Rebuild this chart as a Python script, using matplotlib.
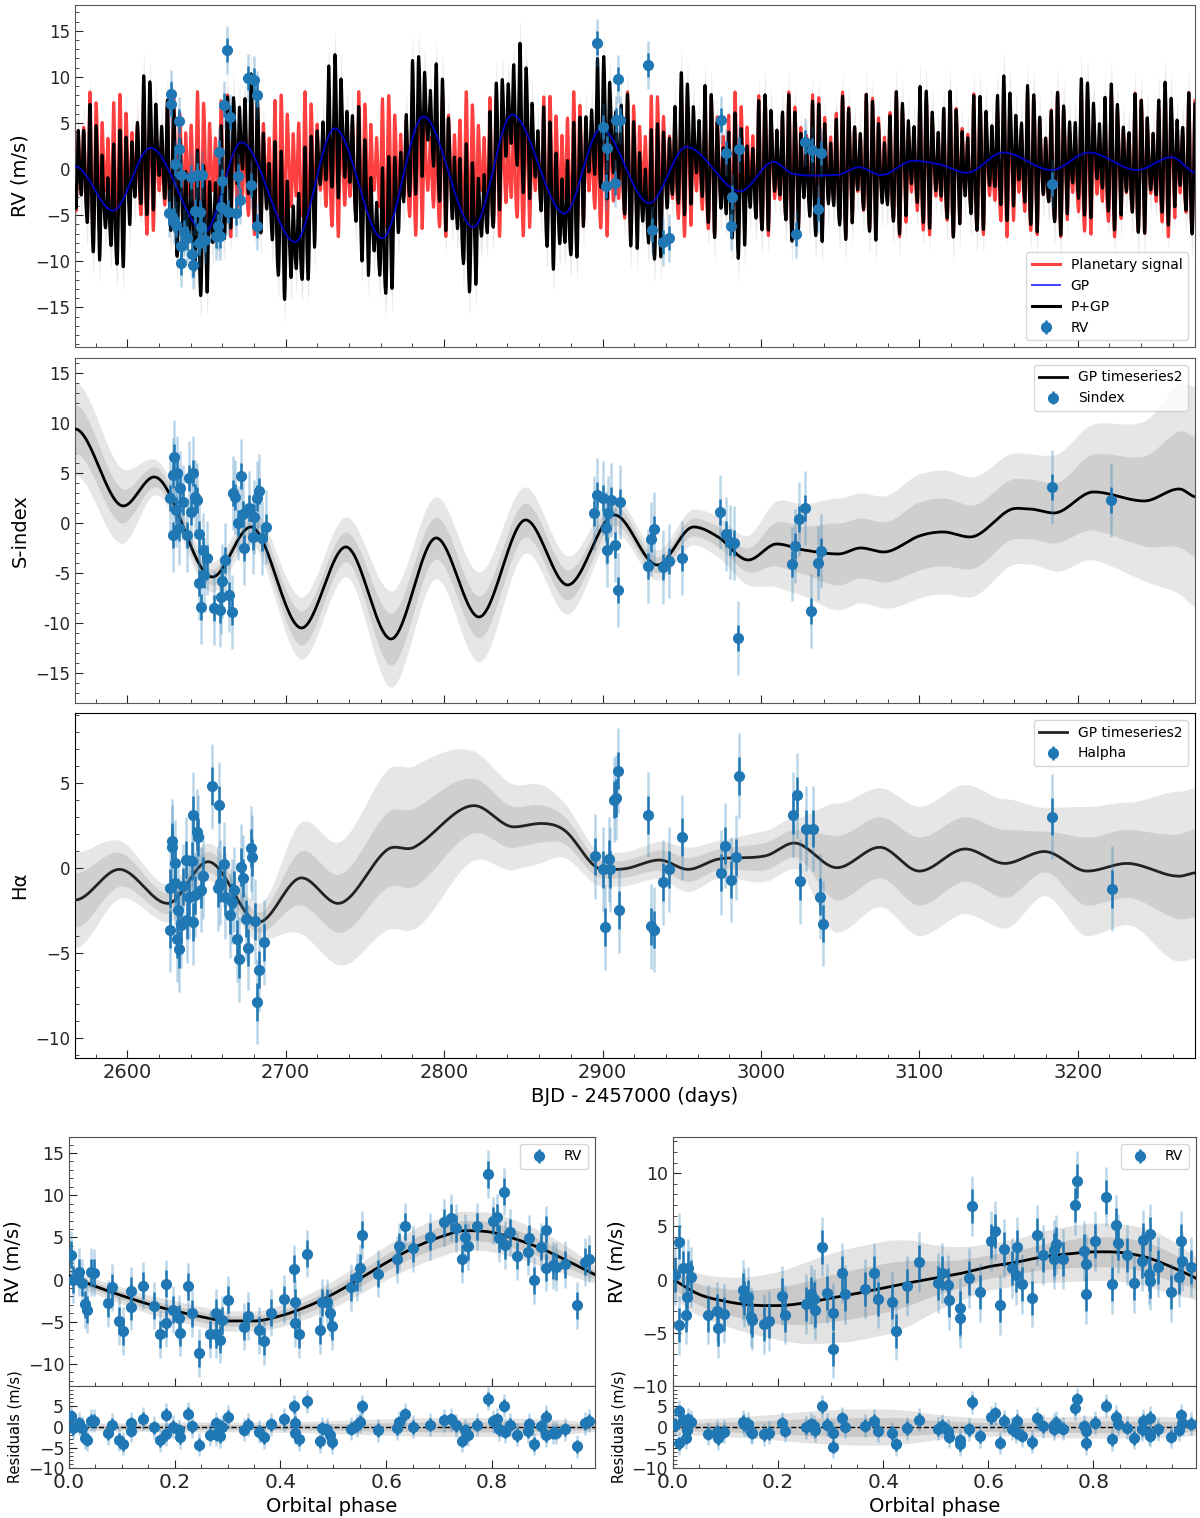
import numpy as np
import matplotlib.pyplot as plt
from matplotlib.ticker import AutoMinorLocator, MultipleLocator

# ---------------- data ----------------
# RV time series (BJD - 2457000, m/s)
rv_days = [2626.2, 2627.8, 2627.8, 2629.4, 2630.0, 2630.5, 2632.6, 2632.6, 2633.7, 2633.7,
           2634.0, 2636.0, 2638.0, 2640.0, 2641.0, 2641.7, 2643.0, 2644.0, 2645.0, 2646.0,
           2646.4, 2647.4, 2649.0, 2656.0, 2657.4, 2658.0, 2658.6, 2659.0, 2660.0, 2661.0,
           2663.0, 2663.7, 2665.0, 2668.6, 2669.6, 2671.0, 2676.4, 2678.0, 2680.0, 2682.0,
           2682.0, 2896.5, 2900.5, 2902.0, 2903.0, 2908.0, 2908.6, 2910.0, 2911.0, 2929.0,
           2931.0, 2938.0, 2942.0, 2974.6, 2978.0, 2981.0, 2982.0, 2986.0, 3022.0, 3028.0,
           3032.0, 3036.0, 3038.0, 3183.5]
rv_vals = [-4.75, 8.2, 7.05, -5.5, 0.6, -6.1, 5.2, 2.2, -8.3, -0.65,
           -10.2, -6.8, -7.5, -0.9, -9.2, -10.4, -4.5, -0.65, -8.0, -4.6,
           -6.3, -0.65, -7.7, -7.3, -6.2, 1.9, -7.3, -4.1, -1.3, 7.0,
           12.9, -4.6, 5.6, -4.8, -0.8, -3.4, 9.9, -1.7, 9.7, 8.0,
           -6.2, 13.7, 4.6, -1.8, 2.3, -1.5, 5.3, 9.8, 5.3, 11.3,
           -6.6, -7.9, -7.5, 5.3, 1.8, -6.2, -3.0, 2.2, -7.0, 2.9,
           2.1, -4.3, 1.7, -1.6]
rv_err_in = 1.3
rv_err_out = 2.6

# GP component of the RV model (turning points)
gp_rv_t = [2567, 2591, 2614.6, 2649, 2672, 2706, 2731, 2761, 2787, 2818.5, 2843, 2876, 2899,
           2929.5, 2953, 2987, 3008, 3020, 3047, 3062, 3076, 3096, 3113, 3130, 3153, 3183.5,
           3207, 3237.5, 3259, 3275]
gp_rv_v = [0.3, -4.5, 2.3, -6.8, 2.9, -7.9, 4.4, -7.5, 5.7, -6.3, 5.9, -4.8, 4.4,
           -3.7, 2.4, -2.4, 0.8, -0.5, -0.65, 0.2, -0.65, 0.9, 0.5, -0.4, 1.8, -0.1,
           1.8, -0.1, 1.3, -0.4]
model_band = 2.5

# phase-folded planetary curves (nodes every 0.05 in phase)
phase_nodes = [0.00, 0.05, 0.10, 0.15, 0.20, 0.25, 0.30, 0.35, 0.40, 0.45, 0.50,
               0.55, 0.60, 0.65, 0.70, 0.75, 0.80, 0.85, 0.90, 0.95, 1.00]
model_b = [0.45, -0.8, -1.9, -2.9, -3.7, -4.4, -4.9, -4.9, -4.3, -3.2, -1.7,
           0.1, 2.0, 3.7, 5.0, 5.8, 5.6, 4.7, 3.5, 2.0, 0.45]
sig1_b = [0.4, 0.45, 0.5, 0.55, 0.6, 0.6, 0.6, 0.6, 0.65, 0.7, 0.8,
          0.9, 1.0, 1.1, 1.2, 1.2, 1.2, 1.1, 1.0, 0.8, 0.5]
sig2_b = [0.8, 0.9, 1.0, 1.1, 1.2, 1.2, 1.2, 1.2, 1.3, 1.4, 1.6,
          1.8, 2.0, 2.2, 2.3, 2.3, 2.3, 2.2, 2.0, 1.6, 1.0]
model_c = [0.0, -1.4, -2.05, -2.4, -2.45, -2.2, -1.75, -1.3, -0.8, -0.3, 0.15,
           0.6, 1.2, 1.6, 2.1, 2.4, 2.6, 2.55, 2.1, 1.15, 0.0]
sig1_c = [0.9, 1.0, 1.2, 1.4, 1.7, 2.0, 2.2, 2.3, 2.3, 2.1, 1.6,
          1.3, 1.1, 1.1, 1.2, 1.3, 1.4, 1.4, 1.4, 1.3, 1.0]
sig2_c = [1.8, 2.0, 2.3, 2.7, 3.2, 3.8, 4.2, 4.4, 4.4, 4.0, 3.1,
          2.5, 2.2, 2.2, 2.4, 2.6, 2.7, 2.7, 2.7, 2.5, 2.0]
period_b, t0_b = 3.77, 2600.0
period_c, t0_c = 4.85, 2601.5

# S-index
si_days = [2626.9, 2628.6, 2629.8, 2629.0, 2630.8, 2631.5, 2632.7, 2633.3, 2635.0, 2637.6,
           2638.8, 2640.0, 2641.7, 2642.6, 2643.8, 2645.0, 2645.5, 2646.7, 2648.0, 2648.2,
           2650.6, 2654.8, 2658.5, 2659.2, 2659.7, 2661.6, 2664.0, 2665.8, 2666.6, 2668.3,
           2670.0, 2672.0, 2673.2, 2674.0, 2677.0, 2679.4, 2680.0, 2681.8, 2683.0, 2684.8,
           2687.7, 2894.7, 2896.6, 2900.0, 2902.0, 2903.0, 2903.7, 2905.4, 2908.0, 2909.8,
           2911.0, 2929.0, 2930.8, 2932.5, 2938.0, 2942.0, 2950.0, 2974.0, 2977.7, 2980.6,
           2983.0, 2985.5, 3019.7, 3021.6, 3023.8, 3027.7, 3031.9, 3036.0, 3038.0, 3183.8,
           3221.2]
si_vals = [2.5, 4.8, 6.6, -1.2, 1.3, 5.0, -0.5, 3.5, 2.1, -1.2,
           4.5, 1.1, 5.0, 2.6, 2.3, -1.1, -6.0, -8.4, -2.7, -5.2,
           -3.5, -8.5, -8.7, -7.4, -5.8, -3.7, -7.2, -8.9, 3.0, 2.6,
           0.0, 4.7, 0.9, -2.5, 1.5, -1.4, 0.6, 2.5, 3.2, -1.5,
           -0.4, 1.0, 2.8, 2.5, -0.5, -2.7, 1.0, 2.3, -2.2, -6.7,
           2.1, -4.3, -1.6, -0.6, -4.4, -3.8, -3.5, 1.1, -1.1, -1.9,
           -2.0, -11.5, -4.1, -2.3, 0.4, 1.5, -8.8, -4.0, -2.8, 3.6,
           2.3]
si_err_in = 1.3
si_err_out = 3.7
si_gp_t = [2567, 2597.5, 2617, 2653.7, 2678, 2710, 2738, 2766.5, 2795, 2822, 2851.5, 2878,
           2907.6, 2934.6, 2957.5, 2973, 2992, 3010, 3027, 3049, 3063, 3077.5, 3100, 3115,
           3132, 3157, 3169, 3185, 3210, 3242, 3264, 3275]
si_gp_v = [9.4, 1.7, 4.6, -5.4, -0.4, -10.5, -2.4, -11.6, -1.5, -9.4, 0.3, -6.2,
           0.8, -4.2, -0.4, -1.4, -3.7, -2.1, -2.7, -3.1, -2.5, -2.9, -1.3, -0.9,
           -1.4, 1.3, 1.4, 1.0, 3.1, 2.2, 3.4, 2.6]
si_gp_s1 = [2.4, 1.7, 1.0, 0.8, 0.9, 1.7, 1.5, 2.6, 2.1, 2.1, 1.7, 1.5,
            1.0, 0.8, 0.9, 1.0, 1.2, 2.2, 2.4, 3.1, 3.0, 3.0, 3.4, 3.4,
            3.2, 3.0, 3.0, 3.0, 3.8, 4.5, 5.8, 6.0]
si_gp_s2 = [4.6, 3.7, 1.8, 1.5, 1.7, 3.1, 3.0, 4.8, 4.1, 4.5, 3.3, 2.9,
            1.8, 1.5, 1.8, 2.0, 2.5, 4.3, 4.6, 5.6, 5.5, 5.6, 6.2, 6.2,
            6.0, 5.6, 5.5, 5.8, 6.8, 8.0, 10.5, 11.0]
si_ticks = [-15, -10, -5, 0, 5, 10, 15]
si_ticklabels = ['\u221215', '-10', '-5', '0', '5', '10', '15']

# H-alpha
ha_days = [2626.8, 2628.0, 2628.5, 2626.8, 2630.0, 2630.0, 2631.6, 2632.8, 2634.0, 2632.0,
           2635.0, 2637.0, 2638.0, 2639.0, 2640.6, 2641.3, 2641.3, 2642.6, 2643.8, 2644.8,
           2646.3, 2648.0, 2653.6, 2657.8, 2657.3, 2658.5, 2661.0, 2662.0, 2664.6, 2665.8,
           2667.5, 2669.0, 2670.8, 2672.0, 2672.8, 2675.0, 2676.0, 2678.0, 2679.0, 2680.8,
           2682.0, 2683.0, 2686.6, 2895.0, 2900.0, 2901.5, 2904.0, 2905.0, 2907.0, 2908.6,
           2910.0, 2910.5, 2929.0, 2930.6, 2932.5, 2938.0, 2942.0, 2950.0, 2975.0, 2977.5,
           2981.0, 2984.0, 2986.0, 3020.0, 3022.5, 3024.7, 3028.6, 3032.7, 3037.0, 3039.0,
           3184.0, 3221.5]
ha_vals = [-3.65, 1.55, 1.2, -1.2, 0.28, -0.9, -4.2, -4.8, -3.4, -2.5,
           -1.1, 0.47, -3.1, -1.7, 0.4, 3.1, -3.2, -1.6, 2.1, 1.8,
           -1.3, -0.5, 4.8, 3.7, -1.2, -0.9, 0.2, -1.7, -2.8, -2.0,
           -1.3, -4.2, -5.4, 0.05, -0.6, -3.0, -4.7, 1.15, 0.6, -3.15,
           -7.9, -6.0, -4.4, 0.67, -0.1, -3.5, 0.5, -0.1, 4.0, 4.1,
           5.7, -2.5, 3.1, -3.45, -3.65, -0.85, -0.1, 1.8, -0.3, 1.3,
           -0.7, 0.6, 5.4, 3.1, 4.25, -0.8, 2.3, 2.3, -1.7, -3.3,
           3.0, -1.25]
ha_err_in = 1.1
ha_err_out = 2.5
ha_gp_t = [2567, 2595, 2625.5, 2651, 2683, 2710, 2733, 2764, 2781, 2819, 2844, 2861, 2876,
           2900, 2915, 2936, 2954, 2973, 3003, 3021, 3048, 3075, 3100, 3129, 3154, 3179,
           3206, 3231, 3264, 3275]
ha_gp_v = [-1.9, -0.1, -2.1, 0.35, -3.2, -0.6, -2.1, 1.05, 1.2, 3.65, 2.4, 2.6, 2.2,
           -0.1, -0.05, 0.45, -0.1, 0.5, 0.7, 1.45, 0.0, 1.2, -0.2, 1.1, 0.25, 0.95,
           -0.2, 0.25, -0.5, -0.3]
ha_gp_s1 = [1.6, 1.0, 0.6, 0.6, 0.6, 1.6, 1.7, 2.2, 2.3, 1.6, 1.2, 1.1, 0.8,
            0.5, 0.5, 0.6, 0.7, 0.6, 0.8, 0.8, 1.9, 1.8, 2.0, 1.9, 2.0, 1.2,
            2.0, 2.0, 2.5, 2.6]
ha_gp_s2 = [2.8, 1.7, 1.1, 1.1, 1.1, 3.3, 3.6, 4.7, 4.8, 3.2, 2.5, 2.3, 1.6,
            1.0, 1.0, 1.1, 1.3, 1.1, 1.5, 1.5, 3.8, 3.5, 3.8, 3.8, 3.8, 2.6,
            3.8, 3.6, 5.0, 5.0]

# phase-folded RVs, planet b (left) and planet c (right)
phase_b = [0.003, 0.008, 0.019, 0.025, 0.030, 0.034, 0.042, 0.047, 0.073, 0.081,
           0.095, 0.103, 0.117, 0.118, 0.140, 0.160, 0.173, 0.183, 0.184, 0.196,
           0.209, 0.210, 0.226, 0.232, 0.245, 0.267, 0.279, 0.279, 0.285, 0.290,
           0.300, 0.331, 0.338, 0.359, 0.368, 0.382, 0.406, 0.426, 0.427, 0.427,
           0.435, 0.450, 0.475, 0.479, 0.489, 0.494, 0.498, 0.533, 0.545, 0.551,
           0.554, 0.585, 0.620, 0.624, 0.635, 0.650, 0.682, 0.710, 0.722, 0.732,
           0.743, 0.750, 0.754, 0.772, 0.792, 0.802, 0.809, 0.813, 0.822, 0.824,
           0.835, 0.848, 0.868, 0.871, 0.879, 0.892, 0.903, 0.903, 0.915, 0.921,
           0.939, 0.961, 0.976, 0.983]
rv_b = [2.95, 0.0, 0.9, -0.4, -2.9, -3.55, 0.9, 0.8, -2.8, -0.9,
        -4.9, -6.1, -1.3, -3.2, -0.7, -3.1, -6.5, -5.2, -0.5, -3.55,
        -4.6, -6.3, -0.8, -4.0, -8.7, -6.5, -3.9, -6.5, -7.1, -4.8,
        -2.4, -5.6, -4.3, -6.0, -7.3, -3.9, -2.3, 1.3, -2.7, -5.2,
        -6.5, 3.05, -6.0, -2.7, -2.7, -3.9, -5.5, -0.9, 0.3, 1.4,
        5.3, 0.7, 2.4, 3.95, 6.3, 3.7, 5.1, 6.8, 7.35, 6.1,
        2.45, 5.0, 3.95, 6.3, 12.5, 7.0, 7.4, 4.9, 10.4, 4.1,
        5.6, 2.8, 3.3, 4.9, -0.1, 3.9, 5.9, 1.4, 1.7, 1.5,
        1.8, -3.05, 2.1, 2.5]
phase_c = [0.004, 0.011, 0.012, 0.020, 0.025, 0.027, 0.029, 0.035, 0.066, 0.083,
           0.086, 0.097, 0.133, 0.136, 0.143, 0.148, 0.150, 0.174, 0.183, 0.207,
           0.214, 0.253, 0.262, 0.268, 0.270, 0.284, 0.294, 0.305, 0.304, 0.322,
           0.327, 0.365, 0.383, 0.390, 0.416, 0.425, 0.445, 0.469, 0.504, 0.512,
           0.524, 0.526, 0.546, 0.546, 0.563, 0.569, 0.585, 0.605, 0.612, 0.623,
           0.630, 0.645, 0.652, 0.654, 0.664, 0.683, 0.692, 0.705, 0.725, 0.729,
           0.725, 0.743, 0.765, 0.769, 0.782, 0.786, 0.786, 0.803, 0.824, 0.835,
           0.842, 0.847, 0.863, 0.877, 0.892, 0.894, 0.905, 0.907, 0.907, 0.923,
           0.947, 0.963, 0.967, 0.968, 0.985]
rv_c = [0.4, 3.5, -4.3, 1.1, -3.3, -1.6, 1.05, 0.25, -3.3, -3.0,
        -4.6, -3.2, -1.0, -1.7, -1.6, -3.5, -3.8, -4.2, -3.9, -1.5,
        -3.3, -2.3, -1.4, -1.85, -2.85, 3.1, -1.3, -3.1, -6.5, 0.6,
        -1.4, -0.85, 0.6, -1.8, -2.1, -4.8, -0.6, 1.65, -0.3, 0.6,
        -0.5, -1.96, -2.7, -3.6, 0.15, 6.9, -1.2, 3.6, 4.6, -2.4,
        2.9, 1.1, 0.4, 3.1, -0.4, -1.7, 4.2, 2.3, 2.8, 3.3,
        1.9, 1.95, 7.0, 9.3, 2.7, 1.5, -1.4, 3.6, 7.8, -0.4,
        5.1, 3.4, 2.3, -0.3, 1.7, 3.7, 0.5, 4.3, -0.1, 1.2,
        -1.2, 0.2, 3.6, 1.7, 1.2]
ph_err_in = 1.6
ph_err_out = 2.8

C0 = '#1f77b4'


def through_nodes(tn, vn, t, periodic=False):
    """smooth (cubic Hermite) curve through the read nodes, flat at turning points"""
    tn = np.asarray(tn, float)
    vn = np.asarray(vn, float)
    m = np.zeros_like(vn)
    for k in range(1, len(vn) - 1):
        if (vn[k] - vn[k - 1]) * (vn[k + 1] - vn[k]) > 0:
            m[k] = (vn[k + 1] - vn[k - 1]) / (tn[k + 1] - tn[k - 1])
    if periodic:
        m[0] = m[-1] = (vn[1] - vn[-2]) / (tn[1] - tn[0] + tn[-1] - tn[-2])
    i = np.clip(np.searchsorted(tn, t, side='right') - 1, 0, len(tn) - 2)
    h = tn[i + 1] - tn[i]
    s = (t - tn[i]) / h
    return ((2 * s**3 - 3 * s**2 + 1) * vn[i] + (s**3 - 2 * s**2 + s) * h * m[i]
            + (-2 * s**3 + 3 * s**2) * vn[i + 1] + (s**3 - s**2) * h * m[i + 1])


def points(ax, x, y, e_in, e_out, label):
    ax.errorbar(x, y, yerr=e_out, fmt='none', ecolor=C0, alpha=0.3, elinewidth=1.8, zorder=5)
    return ax.errorbar(x, y, yerr=e_in, fmt='o', color=C0, ms=7, elinewidth=1.8,
                       capsize=0, zorder=6, label=label)


def style(ax, spine='0.35', ylab=12, xlab=14):
    ax.tick_params(which='both', direction='in', top=False, right=False, colors='0.15')
    ax.tick_params(which='major', length=5.5)
    ax.tick_params(which='minor', length=3)
    ax.tick_params(axis='y', labelsize=ylab)
    ax.tick_params(axis='x', labelsize=xlab)
    ax.yaxis.set_minor_locator(AutoMinorLocator(5))
    for s in ax.spines.values():
        s.set_color(spine)


fig = plt.figure(figsize=(12, 15.18), dpi=100)

ax1 = fig.add_axes([0.0625, 0.7714, 0.9333, 0.2253])
ax2 = fig.add_axes([0.0625, 0.5369, 0.9333, 0.2273], sharex=ax1)
ax3 = fig.add_axes([0.0625, 0.3030, 0.9333, 0.2273], sharex=ax1)

# ---- top: RV time series ----
t_grid = np.arange(2567.0, 3274.05, 0.1)
pl_b = through_nodes(phase_nodes, model_b, ((t_grid - t0_b) / period_b) % 1.0, periodic=True)
pl_c = through_nodes(phase_nodes, model_c, ((t_grid - t0_c) / period_c) % 1.0, periodic=True)
planets = pl_b + pl_c
gp_rv = through_nodes(gp_rv_t, gp_rv_v, t_grid)
total = planets + gp_rv

ax1.fill_between(t_grid, total - model_band, total + model_band, color='0.55', alpha=0.18,
                 lw=0, zorder=1)
l_pl, = ax1.plot(t_grid, planets, color='red', lw=2.2, alpha=0.75, zorder=2,
                 label='Planetary signal')
l_tot, = ax1.plot(t_grid, total, color='black', lw=2.2, zorder=3, label='P+GP')
l_gp, = ax1.plot(t_grid, gp_rv, color='blue', lw=1.4, alpha=0.75, zorder=4, label='GP')
h_rv = points(ax1, rv_days, rv_vals, rv_err_in, rv_err_out, 'RV')
ax1.set_ylim(-19.3, 17.8)
ax1.yaxis.set_major_locator(MultipleLocator(5))
ax1.set_ylabel('RV (m/s)', fontsize=14)
ax1.legend([l_pl, l_gp, l_tot, h_rv], ['Planetary signal', 'GP', 'P+GP', 'RV'],
           loc='lower right', fontsize=10)

# ---- S-index ----
si_grid = np.arange(2567.0, 3274.05, 0.5)
si_mu = through_nodes(si_gp_t, si_gp_v, si_grid)
si_s1 = through_nodes(si_gp_t, si_gp_s1, si_grid)
si_s2 = through_nodes(si_gp_t, si_gp_s2, si_grid)
ax2.fill_between(si_grid, si_mu - si_s2, si_mu + si_s2, color='#e6e6e6', lw=0, zorder=1)
ax2.fill_between(si_grid, si_mu - si_s1, si_mu + si_s1, color='#cfcfcf', lw=0, zorder=2)
l_si, = ax2.plot(si_grid, si_mu, color='black', lw=2, zorder=3, label='GP timeseries2')
h_si = points(ax2, si_days, si_vals, si_err_in, si_err_out, 'Sindex')
ax2.set_ylim(-18, 16.5)
ax2.set_yticks(si_ticks)
ax2.set_yticklabels(si_ticklabels)
ax2.set_ylabel('S-index', fontsize=14)
ax2.legend([l_si, h_si], ['GP timeseries2', 'Sindex'], loc='upper right', fontsize=10)

# ---- H-alpha ----
ha_mu = through_nodes(ha_gp_t, ha_gp_v, si_grid)
ha_s1 = through_nodes(ha_gp_t, ha_gp_s1, si_grid)
ha_s2 = through_nodes(ha_gp_t, ha_gp_s2, si_grid)
ax3.fill_between(si_grid, ha_mu - ha_s2, ha_mu + ha_s2, color='#e6e6e6', lw=0, zorder=1)
ax3.fill_between(si_grid, ha_mu - ha_s1, ha_mu + ha_s1, color='#cfcfcf', lw=0, zorder=2)
l_ha, = ax3.plot(si_grid, ha_mu, color='#222222', lw=2, zorder=3, label='GP timeseries2')
h_ha = points(ax3, ha_days, ha_vals, ha_err_in, ha_err_out, 'Halpha')
ax3.set_ylim(-11.2, 9.1)
ax3.yaxis.set_major_locator(MultipleLocator(5))
ax3.set_ylabel('H\u03b1', fontsize=14)
ax3.set_xlabel('BJD - 2457000 (days)', fontsize=14)
ax3.legend([l_ha, h_ha], ['GP timeseries2', 'Halpha'], loc='upper right', fontsize=10)

ax1.set_xlim(2567, 3274)
ax1.xaxis.set_major_locator(MultipleLocator(100))
ax1.xaxis.set_minor_locator(AutoMinorLocator(5))
style(ax1)
style(ax2)
style(ax3, spine='black')
ax1.tick_params(labelbottom=False)
ax2.tick_params(labelbottom=False)

# ---- phase-folded panels ----
ph_grid = np.linspace(0.0, 0.995, 400)


def phase_panel(ax, axr, ph, rv, nodes, s1n, s2n, ylim):
    mu = through_nodes(phase_nodes, nodes, ph_grid, periodic=True)
    s1 = through_nodes(phase_nodes, s1n, ph_grid, periodic=True)
    s2 = through_nodes(phase_nodes, s2n, ph_grid, periodic=True)
    ax.fill_between(ph_grid, mu - s2, mu + s2, color='#e3e3e3', lw=0, zorder=1)
    ax.fill_between(ph_grid, mu - s1, mu + s1, color='#c9c9c9', lw=0, zorder=2)
    ax.plot(ph_grid, mu, color='black', lw=2, zorder=3)
    h = points(ax, ph, rv, ph_err_in, ph_err_out, 'RV')
    ax.legend([h], ['RV'], loc='upper right', fontsize=10)
    ax.set_ylim(*ylim)
    ax.yaxis.set_major_locator(MultipleLocator(5))
    ax.set_ylabel('RV (m/s)', fontsize=14)
    ax.tick_params(labelbottom=False)

    resid = np.asarray(rv) - through_nodes(phase_nodes, nodes, np.asarray(ph), periodic=True)
    axr.fill_between(ph_grid, -s2, s2, color='#e3e3e3', lw=0, zorder=1)
    axr.fill_between(ph_grid, -s1, s1, color='#c9c9c9', lw=0, zorder=2)
    axr.axhline(0, color='black', ls='--', lw=1, zorder=3)
    points(axr, ph, resid, ph_err_in, ph_err_out, None)
    axr.set_ylim(-10, 10)
    axr.set_yticks([-10, -5, 0, 5])
    axr.set_ylabel('Residuals (m/s)', fontsize=10.5)
    axr.set_xlabel('Orbital phase', fontsize=14)
    axr.set_xlim(0, 0.995)
    axr.xaxis.set_major_locator(MultipleLocator(0.2))
    axr.xaxis.set_minor_locator(AutoMinorLocator(4))
    style(ax, spine='0.3', ylab=12.5, xlab=14.5)
    style(axr, spine='0.3', ylab=12.5, xlab=14.5)


axL = fig.add_axes([0.0575, 0.0870, 0.4383, 0.1640])
axLr = fig.add_axes([0.0575, 0.0329, 0.4383, 0.0541], sharex=axL)
axR = fig.add_axes([0.5608, 0.0870, 0.4358, 0.1640])
axRr = fig.add_axes([0.5608, 0.0329, 0.4358, 0.0541], sharex=axR)

phase_panel(axL, axLr, phase_b, rv_b, model_b, sig1_b, sig2_b, (-12.6, 16.9))
phase_panel(axR, axRr, phase_c, rv_c, model_c, sig1_c, sig2_c, (-10, 13.4))

fig.savefig('out.png', dpi=100)
